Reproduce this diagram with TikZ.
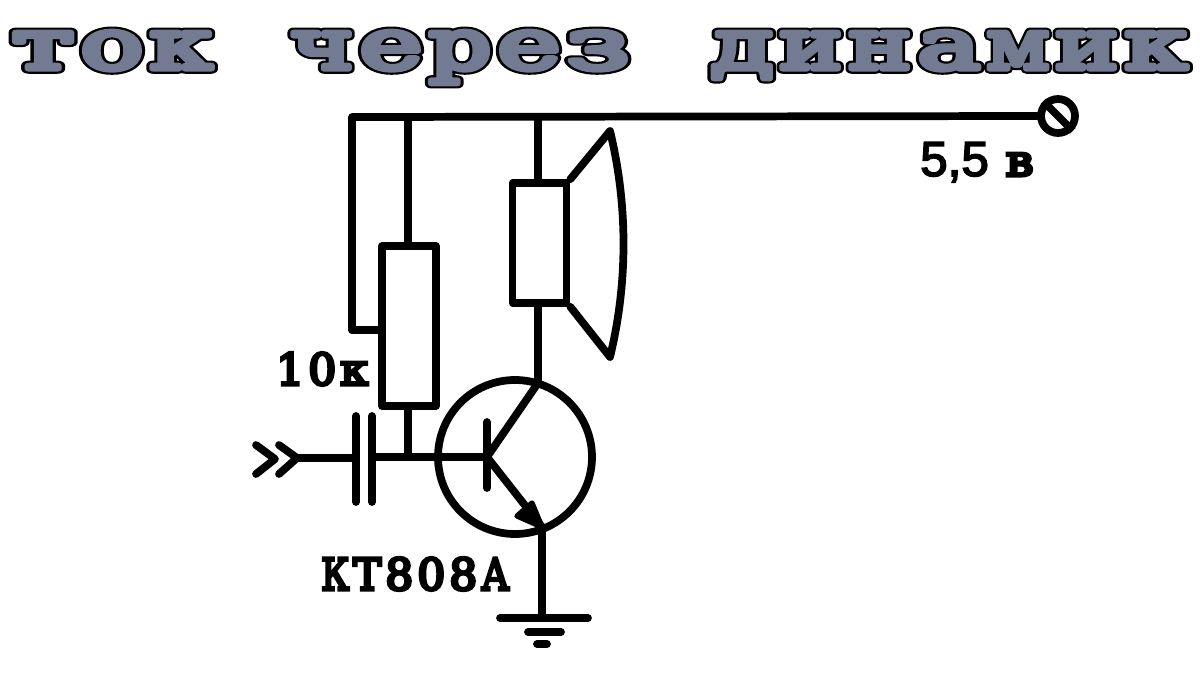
\documentclass[tikz,border=0pt]{standalone}
\usepackage{fontspec}
\usepackage{graphicx}
\setmainfont{DejaVu Serif}
\newfontfamily\labelfont[FakeBold=7]{DejaVu Serif}
\newfontfamily\voltfont[FakeBold=3.2]{Liberation Sans}
\newfontfamily\titleback[FakeBold=13.5]{DejaVu Serif}
\newfontfamily\titlefront[FakeBold=7.5]{DejaVu Serif}
\definecolor{slate}{HTML}{737B92}
% fixed-pitch letters: every letter gets the same advance and the same width
\newcommand{\tltr}[1]{\makebox[51.75pt][c]{\resizebox{47pt}{\height}{#1}}}
\newcommand{\lbltr}[1]{\makebox[24pt][c]{\resizebox{21pt}{\height}{#1}}}
\newcommand{\wordA}{\tltr{т}\tltr{о}\tltr{к}}
\newcommand{\wordB}{\tltr{ч}\tltr{е}\tltr{р}\tltr{е}\tltr{з}}
\newcommand{\wordC}{\tltr{д}\tltr{и}\tltr{н}\tltr{а}\tltr{м}\tltr{и}\tltr{к}}
\newcommand{\titleword}[2]{%
  \node[font=\titleback\fontsize{53}{53}\selectfont,text=black,inner sep=0pt,anchor=base] (#1b) at (#2,69) {\special{pdf:code 1 j 1 J}\csname word#1\endcsname};
  \node[font=\titlefront\fontsize{53}{53}\selectfont,text=slate,inner sep=0pt,anchor=base] (#1f) at (#2,69) {\special{pdf:code 1 j 1 J}\csname word#1\endcsname};}
\tikzset{
  wire/.style={line width=5.8pt,line cap=round,line join=round},
  rbox/.style={draw,line width=5.8pt,line join=round,inner sep=0pt,minimum width=40.5pt,minimum height=#1},
  label/.style={font=\labelfont\fontsize{33}{33}\selectfont,inner sep=0pt,anchor=base west}
}
\begin{document}
\begin{tikzpicture}[x=0.75pt,y=-0.75pt]
\useasboundingbox (0,0) rectangle (1200,675);
\fill[white] (0,0) rectangle (1200,675);
\titleword{A}{112}
\titleword{B}{460}
\titleword{C}{949}
% named points
\coordinate (tl) at (352,117);
\coordinate (t1) at (408,117);
\coordinate (t2) at (538,117);
\coordinate (wip) at (352,330);
\node[rbox=120pt] (r1) at (409,326) {};
\node[rbox=90pt] (r2) at (539.5,243) {};
\node[circle,draw,line width=5.8pt,minimum size=115.5pt,inner sep=0pt] (q) at (515,457) {};
\node[circle,draw,line width=5.8pt,minimum size=25.5pt,inner sep=0pt] (term) at (1058,116) {};
\coordinate (base) at (487,457);
\coordinate (coll) at (538,383);
\coordinate (emit) at (542,527);
\coordinate (bj) at (408,457);
\coordinate (cone1) at (610,131);
\coordinate (cone2) at (610,357);
\coordinate (c1t) at (356,416);
\coordinate (c1b) at (356,502);
\coordinate (c2t) at (372,416);
\coordinate (c2b) at (372,502);
\coordinate (in) at (298,458);
\coordinate (g0) at (542,618);
% wires
\draw[wire] (wip) -- (tl) -- (term.west);
\draw[wire] (wip) -- (r1.west |- wip);
\draw[wire] (t1) -- (t1 |- r1.north);
\draw[wire] (r1.south -| bj) -- (bj);
\draw[wire] (t2) -- (t2 |- r2.north);
\draw[wire] (t2 |- r2.south) -- (coll);
% terminal slash
\draw[wire,line cap=butt] (term.135) -- (term.-45);
% speaker cone
\draw[wire] (r2.north east) -- (cone1) .. controls (628,205) and (628,283) .. (cone2) -- (r2.south east);
% capacitor and base line
\draw[wire] (c1t) -- (c1b);
\draw[wire] (c2t) -- (c2b);
\draw[wire] (in) -- (c1t |- in);
\draw[wire] (c2t |- bj) -- (base);
% input chevrons
\draw[wire] (256,445) -- (275,459) -- (256,474);
\draw[wire] (279,445) -- (297,458) -- (279,474);
% transistor
\draw[wire] (487,422) -- (487,488);
\draw[wire] (base) -- (coll);
\draw[wire] (base) -- (emit);
\fill[line join=round,draw,line width=4pt] (emit) -- (532,503) -- (517,516) -- cycle;
% ground
\draw[wire] (emit) -- (g0);
\draw[wire] (500,618) -- (588,618);
\draw[wire] (528,632) -- (561,632);
\draw[wire] (537,644) -- (547,644);
% labels
\node[label] (l10k) at (274,385) {\lbltr{1}\lbltr{0}\lbltr{к}};
\node[label] (lkt) at (319,590) {\lbltr{К}\lbltr{Т}\lbltr{8}\lbltr{0}\lbltr{8}\lbltr{А}};
\node[label] (lv) at (920,176) {{\voltfont\fontsize{37}{37}\selectfont 5,5}\kern 11pt \lbltr{в}};
\end{tikzpicture}
\end{document}
